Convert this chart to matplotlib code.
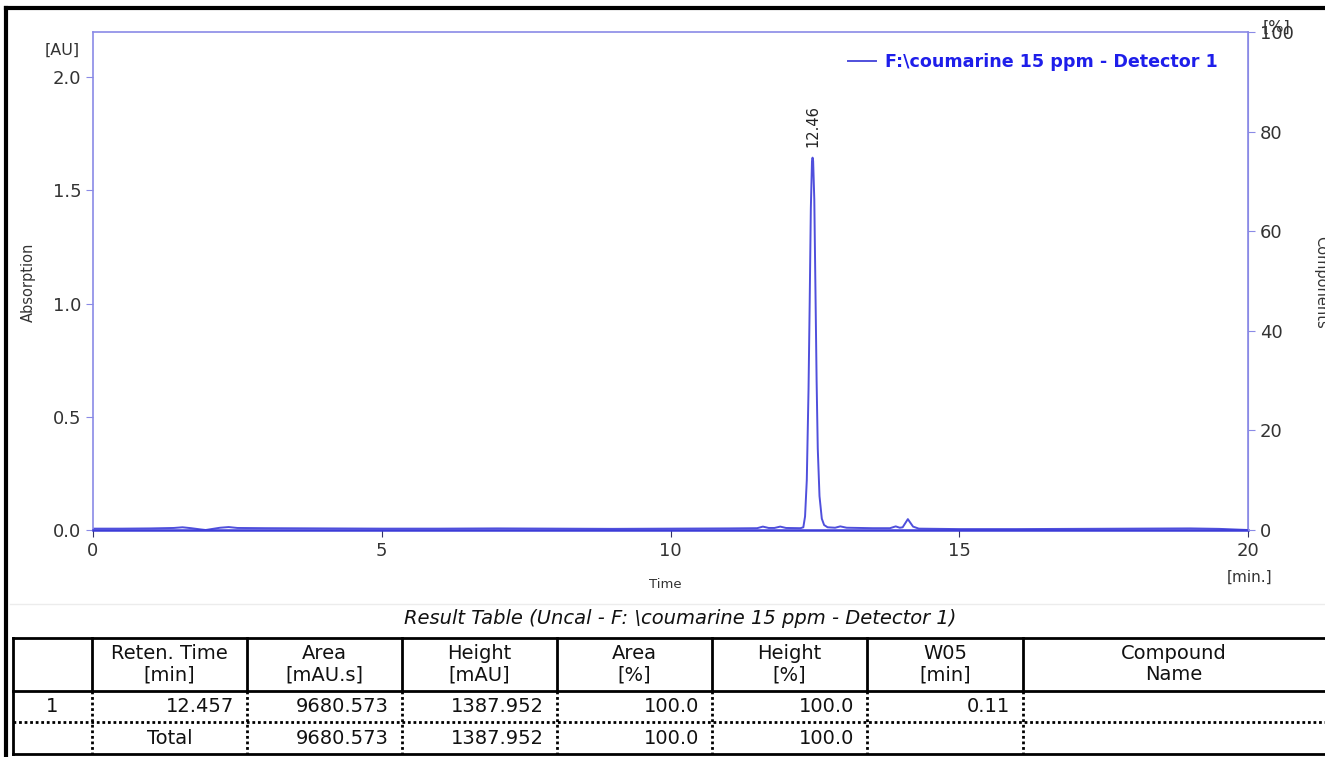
import matplotlib.pyplot as plt
import numpy as np

# trace (time in min, absorbance in AU)
time_min = [0.0, 0.5, 1.0, 1.4, 1.55, 1.7, 1.85, 1.95, 2.05, 2.2, 2.35, 2.5, 3.0, 4.0,
            5.0, 6.0, 7.0, 8.0, 9.0, 10.0, 11.0, 11.5, 11.6, 11.7, 11.8, 11.9, 12.0,
            12.25, 12.30, 12.33, 12.36, 12.39, 12.41, 12.43, 12.45, 12.46, 12.47, 12.49,
            12.51, 12.53, 12.55, 12.58, 12.62, 12.66, 12.72, 12.85, 12.94, 13.05, 13.5,
            13.8, 13.9, 13.97, 14.02, 14.11, 14.2, 14.3, 15.0, 16.0, 17.0, 18.0, 19.0,
            19.5, 20.0]
absorb_au = [0.006, 0.006, 0.007, 0.009, 0.012, 0.008, 0.003, 0.0, 0.004, 0.010, 0.013,
             0.009, 0.008, 0.007, 0.006, 0.006, 0.007, 0.006, 0.005, 0.006, 0.007, 0.008,
             0.015, 0.009, 0.009, 0.015, 0.009,
             0.008, 0.012, 0.06, 0.22, 0.62, 1.00, 1.42, 1.63, 1.645, 1.63, 1.46,
             1.06, 0.66, 0.36, 0.15, 0.05, 0.022, 0.012, 0.010, 0.016, 0.010, 0.008,
             0.008, 0.016, 0.010, 0.012, 0.048, 0.015, 0.006, 0.004, 0.004, 0.005, 0.006,
             0.007, 0.005, 0.0]
peak_time = 12.46
peak_height = 1.645
peak_label = "12.46"
trace_label = "F:\\coumarine 15 ppm - Detector 1"

# result table
col_headers = ["", "Reten. Time\n[min]", "Area\n[mAU.s]", "Height\n[mAU]", "Area\n[%]",
               "Height\n[%]", "W05\n[min]", "Compound\nName"]
row_peak = ["1", "12.457", "9680.573", "1387.952", "100.0", "100.0", "0.11", ""]
row_total = ["", "Total", "9680.573", "1387.952", "100.0", "100.0", "", ""]
table_title = "Result Table (Uncal - F: \\coumarine 15 ppm - Detector 1)"

W, H = 1325, 757
fig = plt.figure(figsize=(W / 100, H / 100), dpi=100)
fig.patch.set_facecolor('white')

# overlay in pixel coords for frame and table
ov = fig.add_axes([0, 0, 1, 1])
ov.set_xlim(0, W)
ov.set_ylim(H, 0)
ov.axis('off')
ov.plot([6, W], [8, 8], color='black', lw=3)
ov.plot([6, 6], [8, H], color='black', lw=3)
ov.plot([10, W], [604, 604], color='#ececec', lw=1)
ov.text(680, 619, table_title, ha='center', va='center', fontsize=14, style='italic', color='#111111')

edges = [13, 92, 247, 402, 557, 712, 867, 1023, 1335]
t_top, h_bot, r_mid, t_bot = 638, 691, 722, 754
ov.plot([13, W], [t_top, t_top], color='black', lw=2)
ov.plot([13, W], [h_bot, h_bot], color='black', lw=2)
ov.plot([13, W], [r_mid, r_mid], color='black', lw=2, linestyle=(0, (1, 1)))
ov.plot([13, W], [t_bot, t_bot], color='black', lw=2)
ov.plot([13, 13], [t_top, t_bot], color='black', lw=2)
for e in edges[1:-1]:
    ov.plot([e, e], [t_top, h_bot], color='black', lw=2)
    ov.plot([e, e], [h_bot, t_bot], color='black', lw=2, linestyle=(0, (1, 1)))

for i, hdr in enumerate(col_headers):
    xc = (edges[i] + edges[i + 1]) / 2 if i < 7 else (edges[7] + 1325) / 2
    ov.text(xc, 664, hdr, ha='center', va='center', fontsize=14, linespacing=1.15, color='#111111')

for row, yc in [(row_peak, 707), (row_total, 738)]:
    for i, val in enumerate(row):
        if not val:
            continue
        if (i == 0) or (val == "Total"):
            ov.text((edges[i] + edges[i + 1]) / 2, yc, val, ha='center', va='center',
                    fontsize=14, color='#111111')
        else:
            ov.text(edges[i + 1] - 13, yc, val, ha='right', va='center', fontsize=14, color='#111111')

# main chromatogram
spine_c = '#8a8ae6'
ax = fig.add_axes([93 / W, 1 - 530 / H, (1248 - 93) / W, (530 - 32) / H])
ax.plot(time_min, absorb_au, color='#4f4fdc', lw=1.4, label=trace_label)
ax.set_xlim(0, 20)
ax.set_ylim(0, 2.2)
ax.set_xticks([0, 5, 10, 15, 20])
ax.set_yticks([0.0, 0.5, 1.0, 1.5, 2.0])
ax.set_yticklabels(['%.1f' % v for v in [0.0, 0.5, 1.0, 1.5, 2.0]])
for s in ax.spines.values():
    s.set_color(spine_c)
    s.set_linewidth(1.2)
ax.spines['bottom'].set_color('#3c3cd8')
ax.spines['bottom'].set_linewidth(1.8)
ax.tick_params(axis='y', colors=spine_c, labelcolor='#333333', labelsize=13, length=5, direction='out')
ax.tick_params(axis='x', colors='#333366', labelcolor='#333333', labelsize=13, length=5, direction='out')

ax.annotate(peak_label, (peak_time, peak_height), xytext=(0, 8), textcoords='offset points',
            rotation=90, ha='center', va='bottom', fontsize=10.5, color='#222222')

leg = ax.legend(loc='upper left', bbox_to_anchor=(0.654, 0.957), frameon=False,
                borderpad=0, borderaxespad=0, handlelength=1.6, handletextpad=0.5,
                prop={'family': 'DejaVu Sans', 'weight': 'bold', 'size': 12.6})
for t in leg.get_texts():
    t.set_color('#1e1eea')

ax2 = ax.twinx()
ax2.set_ylim(0, 100)
ax2.set_yticks([0, 20, 40, 60, 80, 100])
ax2.spines['right'].set_color(spine_c)
for s in ['left', 'top', 'bottom']:
    ax2.spines[s].set_visible(False)
ax2.tick_params(axis='y', colors=spine_c, labelcolor='#333333', labelsize=13, length=5, direction='out')

fig.text(62 / W, 1 - 50 / H, "[AU]", ha='center', va='center', fontsize=11.5, color='#333333')
fig.text(1276 / W, 1 - 27 / H, "[%]", ha='center', va='center', fontsize=11.5, color='#333333')
fig.text(28 / W, 1 - 282 / H, "Absorption", rotation=90, ha='center', va='center', fontsize=10.5, color='#333333')
fig.text(1321 / W, 1 - 282 / H, "Components", rotation=270, ha='center', va='center', fontsize=10.5, color='#333333')
fig.text(665 / W, 1 - 584 / H, "Time", ha='center', va='center', fontsize=9.5, color='#333333')
fig.text(1250 / W, 1 - 577 / H, "[min.]", ha='center', va='center', fontsize=11, color='#333333')

plt.savefig('out.png', dpi=100)
